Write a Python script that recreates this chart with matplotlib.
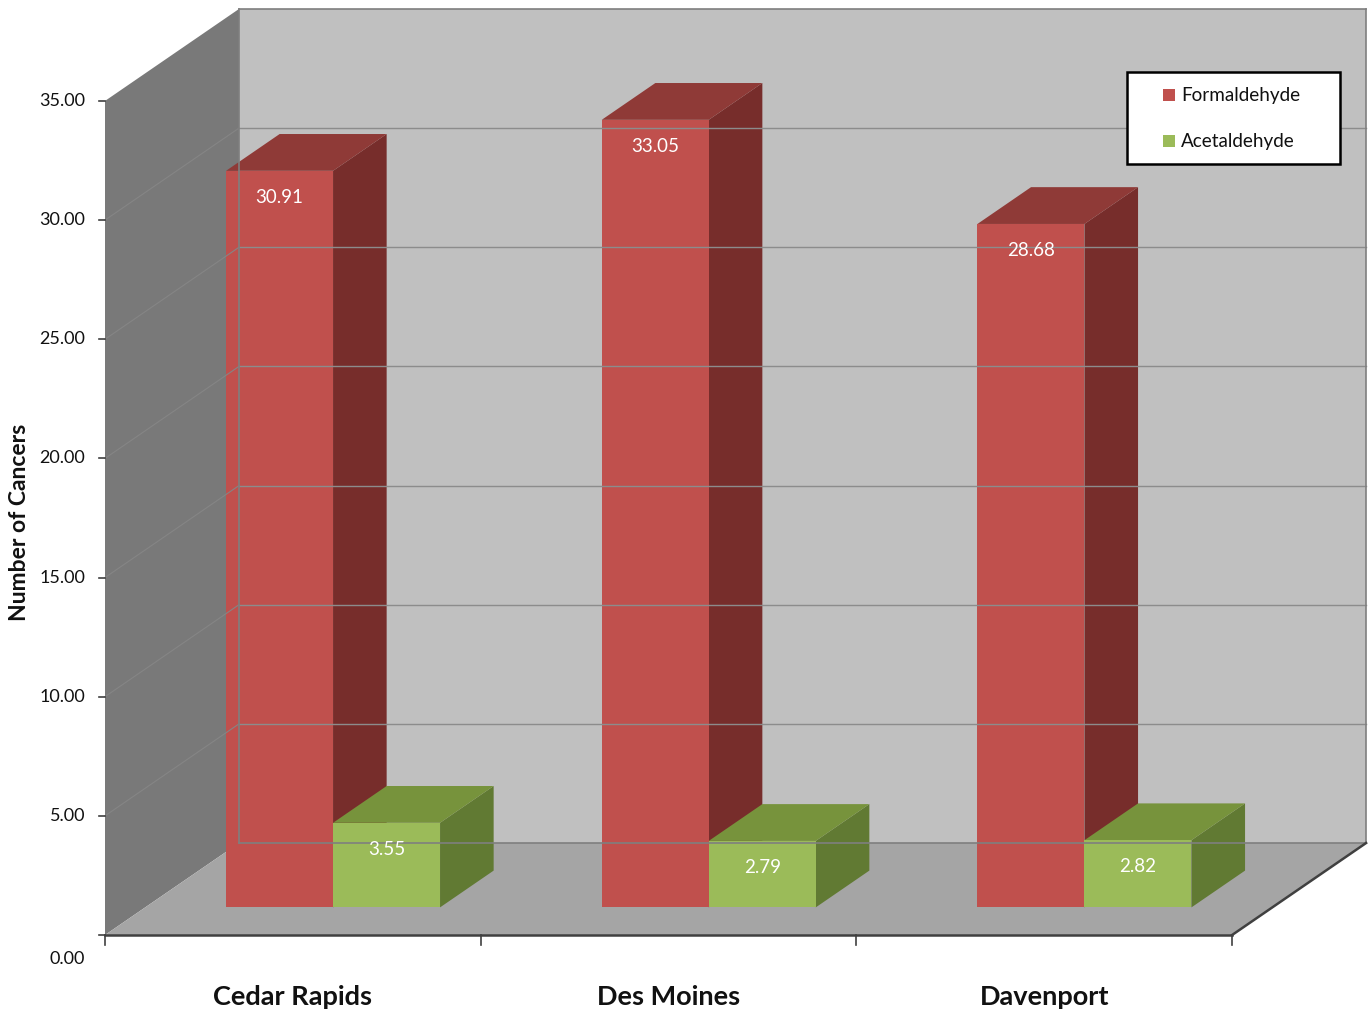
import matplotlib
matplotlib.use("Agg")
import matplotlib.pyplot as plt
from matplotlib.patches import Polygon, Rectangle

plt.rcParams['font.family'] = ['Lato', 'DejaVu Sans']

categories = ['Cedar Rapids', 'Des Moines', 'Davenport']
formaldehyde = [30.91, 33.05, 28.68]
acetaldehyde = [3.55, 2.79, 2.82]
series_names = ['Formaldehyde', 'Acetaldehyde']
yticks = [0, 5, 10, 15, 20, 25, 30, 35]

# oblique projection constants (in data units)
PX_PER_CAT = 375.7
PX_PER_VAL = 23.83
X0_PX, Y0_PX = 105, 935
DX = 134 / PX_PER_CAT
DY = 92 / PX_PER_VAL
YMAX = 35
BAR_W = 107 / PX_PER_CAT
D_FRONT, D_BACK = 0.3, 0.7

front_cols = ['#c0504d', '#9bbb59']
top_cols = ['#8f3a37', '#77933c']
side_cols = ['#772d2b', '#617a33']


def P(c, v, d):
    return (c + d * DX, v + d * DY)


W, H = 1368, 1013
fig = plt.figure(figsize=(W / 100, H / 100), dpi=100)
ax = fig.add_axes([0, 0, 1, 1])
ax.set_xlim(-X0_PX / PX_PER_CAT, (W - X0_PX) / PX_PER_CAT)
ax.set_ylim((Y0_PX - H) / PX_PER_VAL, Y0_PX / PX_PER_VAL)
ax.axis('off')

n = len(categories)

# walls and floor
back = [P(0, 0, 1), P(n, 0, 1), P(n, YMAX, 1), P(0, YMAX, 1)]
left = [P(0, 0, 0), P(0, 0, 1), P(0, YMAX, 1), P(0, YMAX, 0)]
floor = [P(0, 0, 0), P(n, 0, 0), P(n, 0, 1), P(0, 0, 1)]
ax.add_patch(Polygon(back, closed=True, fc='#c0c0c0', ec='none'))
ax.add_patch(Polygon(left, closed=True, fc='#797979', ec='none'))
ax.add_patch(Polygon(floor, closed=True, fc='#a5a5a5', ec='none'))

# gridlines
for t in yticks[1:-1]:
    a, b = P(0, t, 1), P(n, t, 1)
    ax.plot([a[0], b[0]], [a[1], b[1]], color='#8c8c8c', lw=1.0)
    a, b = P(0, t, 0), P(0, t, 1)
    ax.plot([a[0], b[0]], [a[1], b[1]], color='#858585', lw=0.8)

# wall outlines
for pts in ([P(0, YMAX, 1), P(n, YMAX, 1)], [P(0, 0, 1), P(0, YMAX, 1)],
            [P(n, 0, 1), P(n, YMAX, 1)], [P(0, 0, 1), P(n, 0, 1)]):
    ax.plot([p[0] for p in pts], [p[1] for p in pts], color='#7f7f7f', lw=1.2)
for pts in ([P(0, 0, 0), P(n, 0, 0)], [P(n, 0, 0), P(n, 0, 1)]):
    ax.plot([p[0] for p in pts], [p[1] for p in pts], color='#404040', lw=1.8)

# bars
for i in range(n):
    center = i + 0.5
    for k, vals in enumerate([formaldehyde, acetaldehyde]):
        v = vals[i]
        x0 = center - BAR_W if k == 0 else center
        x1 = x0 + BAR_W
        front = [P(x0, 0, D_FRONT), P(x1, 0, D_FRONT), P(x1, v, D_FRONT), P(x0, v, D_FRONT)]
        top = [P(x0, v, D_FRONT), P(x1, v, D_FRONT), P(x1, v, D_BACK), P(x0, v, D_BACK)]
        side = [P(x1, 0, D_FRONT), P(x1, 0, D_BACK), P(x1, v, D_BACK), P(x1, v, D_FRONT)]
        ax.add_patch(Polygon(side, closed=True, fc=side_cols[k], ec='none'))
        ax.add_patch(Polygon(top, closed=True, fc=top_cols[k], ec='none'))
        ax.add_patch(Polygon(front, closed=True, fc=front_cols[k], ec='none'))
        lx, ly = P((x0 + x1) / 2, v - 1.1, D_FRONT)
        ax.text(lx, ly, f'{v:.2f}', color='white', fontsize=13.5,
                ha='center', va='center')

# value axis ticks and labels
tick_len = 6 / PX_PER_CAT
for t in yticks:
    ax.plot([-tick_len, 0], [t, t], color='#404040', lw=1.2)
    ty = t if t > 0 else -1.0
    ax.text(-20 / PX_PER_CAT, ty, f'{t:.2f}', ha='right', va='center',
            fontsize=13, color='#111111')

# category ticks and labels
for i in range(n + 1):
    ax.plot([i, i], [0, -10 / PX_PER_VAL], color='#404040', lw=1.2)
for i, name in enumerate(categories):
    ax.text(i + 0.5, -62 / PX_PER_VAL, name, ha='center', va='center',
            fontsize=19.5, fontweight='bold', color='#111111')

ax.text(-85 / PX_PER_CAT, (Y0_PX - 522) / PX_PER_VAL, 'Number of Cancers',
        rotation=90, ha='center', va='center', fontsize=16.5,
        fontweight='bold', color='#111111')

# legend box
lx0, ly0, lx1, ly1 = 1127, 72, 1340, 164
fig.patches.append(Rectangle((lx0 / W, 1 - ly1 / H), (lx1 - lx0) / W, (ly1 - ly0) / H,
                             transform=fig.transFigure, fc='white', ec='black', lw=1.8))
for k, name in enumerate(series_names):
    cy = 95 + 46 * k
    fig.patches.append(Rectangle((1163 / W, 1 - (cy + 6) / H), 12 / W, 12 / H,
                                 transform=fig.transFigure, fc=front_cols[k], ec='none'))
    fig.text(1181 / W, 1 - cy / H, name, ha='left', va='center',
             fontsize=13.6, color='#111111')

fig.savefig('out.png', dpi=100)
